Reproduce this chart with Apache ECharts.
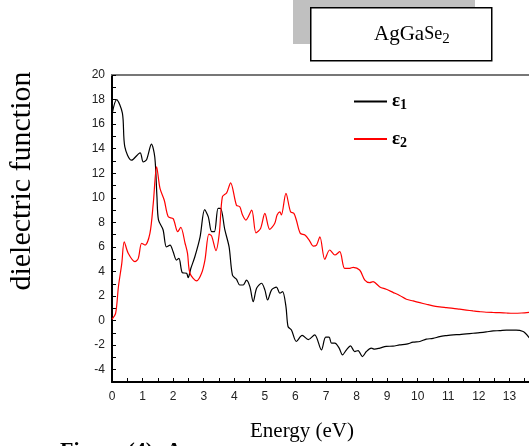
<!DOCTYPE html>
<html>
<head>
<meta charset="utf-8">
<script src="https://cdn.jsdelivr.net/npm/echarts@6/dist/echarts.min.js"></script>
<style>
  html, body { margin: 0; padding: 0; background: #fff; }
  #chart { width: 529px; height: 446px; }
</style>
</head>
<body>
<div id="chart"></div>
<script>
// 介电函数数据
const energy1 = [0, 0.15, 0.34, 0.42, 0.64, 0.92, 1.02, 1.13, 1.29, 1.40, 1.47, 1.52, 1.67, 1.78, 1.90, 2.0, 2.11, 2.19, 2.30, 2.44, 2.49, 2.58, 2.71, 2.88, 3.03, 3.15, 3.26, 3.35, 3.47, 3.55, 3.69, 3.83, 3.94, 4.07, 4.18, 4.29, 4.40, 4.51, 4.62, 4.73, 4.89, 5.0, 5.09, 5.22, 5.38, 5.49, 5.58, 5.69, 5.76, 5.87, 6.03, 6.22, 6.42, 6.63, 6.85, 6.99, 7.1, 7.18, 7.29, 7.43, 7.54, 7.67, 7.80, 7.94, 8.05, 8.19, 8.32, 8.48, 8.59, 8.76, 8.97, 9.19, 9.41, 9.63, 9.85, 10.07, 10.28, 10.5, 10.72, 10.94, 11.16, 11.37, 11.59, 11.81, 12.03, 12.24, 12.47, 12.68, 12.9, 13.22, 13.45, 13.55, 13.65];
const eps1 = [16.8, 18.0, 16.9, 14.15, 13.06, 13.66, 12.93, 13.1, 14.37, 13.3, 10.1, 8.2, 7.4, 6.0, 6.15, 5.6, 4.93, 5.07, 3.9, 3.85, 3.5, 4.26, 5.2, 6.8, 9.03, 8.45, 7.24, 7.24, 9.14, 9.14, 7.4, 6.0, 3.7, 3.37, 2.9, 2.9, 3.3, 2.77, 1.54, 2.63, 3.04, 2.5, 1.68, 2.5, 2.72, 2.23, 2.36, 1.14, -0.5, -0.76, -1.7, -1.2, -1.55, -1.16, -2.38, -1.35, -1.35, -1.84, -1.84, -2.24, -2.79, -2.38, -2.06, -2.52, -2.44, -2.93, -2.52, -2.24, -2.33, -2.24, -2.1, -2.08, -1.98, -1.92, -1.76, -1.7, -1.51, -1.45, -1.3, -1.22, -1.16, -1.14, -1.08, -1.03, -0.98, -0.92, -0.84, -0.82, -0.78, -0.78, -0.89, -1.1, -1.4];

const energy2 = [0, 0.12, 0.21, 0.32, 0.40, 0.53, 0.75, 0.86, 0.97, 1.08, 1.24, 1.35, 1.46, 1.57, 1.71, 1.84, 2.0, 2.15, 2.25, 2.39, 2.47, 2.55, 2.77, 2.93, 3.04, 3.17, 3.26, 3.40, 3.51, 3.61, 3.75, 3.88, 4.07, 4.18, 4.27, 4.38, 4.57, 4.71, 4.86, 5.0, 5.16, 5.32, 5.40, 5.49, 5.54, 5.69, 5.84, 5.95, 6.03, 6.16, 6.31, 6.45, 6.58, 6.69, 6.80, 6.96, 7.12, 7.29, 7.45, 7.61, 7.78, 7.89, 8.10, 8.27, 8.43, 8.54, 8.76, 8.97, 9.19, 9.41, 9.63, 9.85, 10.07, 10.28, 10.5, 10.72, 10.94, 11.16, 11.37, 11.59, 11.81, 12.03, 12.24, 12.46, 12.68, 12.9, 13.12, 13.4, 13.65];
const eps2 = [0.11, 0.6, 2.76, 4.66, 6.42, 5.48, 4.8, 5.07, 6.3, 6.15, 7.1, 9.55, 12.52, 10.76, 9.8, 8.45, 8.3, 7.24, 7.6, 6.3, 5.48, 3.86, 3.23, 3.85, 4.93, 7.04, 6.88, 5.7, 7.1, 10.08, 10.4, 11.22, 9.4, 9.27, 8.6, 8.19, 9.0, 7.15, 7.5, 8.73, 7.43, 7.9, 8.6, 8.86, 8.6, 10.36, 8.86, 8.73, 8.19, 7.1, 6.97, 6.56, 6.07, 6.15, 6.83, 4.99, 5.75, 5.34, 5.61, 4.26, 4.26, 4.34, 4.12, 3.3, 3.09, 3.17, 2.74, 2.55, 2.3, 2.05, 1.74, 1.6, 1.46, 1.33, 1.2, 1.12, 1.06, 1.0, 0.93, 0.86, 0.79, 0.73, 0.68, 0.66, 0.65, 0.62, 0.6, 0.62, 0.68];

const seriesNames = ['ε1', 'ε2'];

const chart = echarts.init(document.getElementById('chart'));
const pair = (xs, ys) => xs.map((x, i) => [x, ys[i]]);

const option = {
    animation: false,
    backgroundColor: '#fff',
    grid: { left: 112, top: 75, width: 428, height: 307, outerBoundsMode: 'none', containLabel: false },
    legend: {
        orient: 'vertical',
        left: 349,
        top: 87,
        itemWidth: 33,
        itemHeight: 2,
        itemGap: 17,
        icon: 'rect',
        data: seriesNames,
        formatter: name => '{e|ε}{s|' + name.slice(1) + '}',
        textStyle: {
            rich: {
                e: { fontFamily: 'Liberation Serif', fontWeight: 'bold', fontSize: 19, color: '#000' },
                s: { fontFamily: 'Liberation Serif', fontWeight: 'bold', fontSize: 14, color: '#000', padding: [8, 0, 0, 0] }
            }
        }
    },
    xAxis: [
        {
            type: 'value',
            min: 0,
            max: 14,
            interval: 1,
            axisLine: { onZero: false, lineStyle: { color: '#000', width: 2 } },
            axisTick: { inside: true, length: 4, lineStyle: { color: '#000' } },
            minorTick: { show: true, splitNumber: 2, length: 4, lineStyle: { color: '#000' } },
            axisLabel: { fontFamily: 'Liberation Sans', fontSize: 12, color: '#222', margin: 9 },
            splitLine: { show: false }
        },
        {
            type: 'value',
            position: 'top',
            min: 0,
            max: 14,
            axisLine: { show: true, onZero: false, lineStyle: { color: '#777', width: 2 } },
            axisTick: { show: false },
            axisLabel: { show: false },
            splitLine: { show: false }
        }
    ],
    yAxis: {
        type: 'value',
        min: -5,
        max: 20,
        interval: 1,
        axisLine: { show: true, onZero: false, lineStyle: { color: '#000', width: 2 } },
        axisTick: { inside: true, length: 4, lineStyle: { color: '#000' } },
        axisLabel: {
            fontFamily: 'Liberation Sans', fontSize: 12, color: '#222', margin: 7,
            formatter: v => (v % 2 === 0 ? String(v) : '')
        },
        splitLine: { show: false }
    },
    series: [
        {
            name: seriesNames[0],
            type: 'line',
            data: pair(energy1, eps1),
            smooth: 0.3,
            showSymbol: false,
            lineStyle: { color: '#000', width: 1.2 },
            itemStyle: { color: '#000' }
        },
        {
            name: seriesNames[1],
            type: 'line',
            data: pair(energy2, eps2),
            smooth: 0.3,
            showSymbol: false,
            lineStyle: { color: '#ff0000', width: 1.2 },
            itemStyle: { color: '#ff0000' }
        }
    ],
    graphic: [
        { type: 'rect', left: 293, top: 0, shape: { width: 182, height: 44 }, style: { fill: '#c0c0c0' } },
        { type: 'rect', left: 310, top: 7, shape: { width: 181, height: 53 }, style: { fill: '#fff', stroke: '#000', lineWidth: 1.5 } },
        {
            type: 'text', left: 374, top: 24,
            style: {
                text: '{a|AgGa}{b|Se}{c|2}',
                rich: {
                    a: { fontFamily: 'Liberation Serif', fontSize: 21, fill: '#000' },
                    b: { fontFamily: 'Liberation Serif', fontSize: 18, fill: '#000' },
                    c: { fontFamily: 'Liberation Serif', fontSize: 15, fill: '#000', padding: [10, 0, 0, 0] }
                }
            }
        },
        {
            type: 'text', x: 22, y: 181, rotation: Math.PI / 2,
            style: { text: 'dielectric function', fontFamily: 'Liberation Serif', fontSize: 30, fill: '#000', align: 'center', verticalAlign: 'middle' }
        },
        {
            type: 'text', x: 302, y: 431,
            style: { text: 'Energy (eV)', fontFamily: 'Liberation Serif', fontSize: 21, fill: '#000', align: 'center', verticalAlign: 'middle' }
        },
        {
            type: 'text', left: 60, top: 440,
            style: { text: 'Figure (4): A', fontFamily: 'Liberation Serif', fontSize: 22, fontWeight: 'bold', fill: '#000' }
        }
    ]
};
chart.setOption(option);
</script>
</body>
</html>
